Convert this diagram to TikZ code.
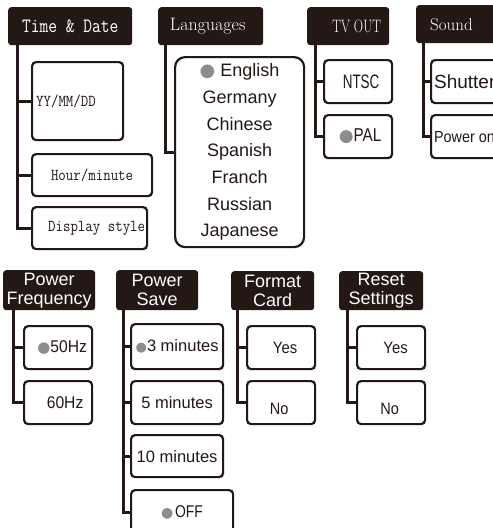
\documentclass[tikz,border=0pt]{standalone}
\usepackage{fontspec}
\usepackage{graphicx}
\newfontfamily\sanf{Liberation Sans}
\newfontfamily\symf{DejaVu Sans}
\definecolor{dark}{HTML}{231815}
\definecolor{dotgray}{HTML}{8C8C8C}
\newcommand{\cnd}[3]{\scalebox{#1}[1]{\fontsize{#2}{#2}\selectfont #3}}
\newcommand{\gdot}[1]{{\fontsize{#1}{#1}\symf\textcolor{dotgray}{●}}}
\newcommand{\lowr}[2]{\raisebox{-#1}[\height][\depth]{#2}}
\newcommand{\mt}[1]{\scalebox{1}[1.15]{#1}}
\begin{document}
\begin{tikzpicture}[x=1pt,y=-1pt,
  hdr/.style={fill=dark, rounded corners=3pt, text=white, inner sep=0pt, anchor=north west},
  box/.style={draw=dark, line width=2.2pt, rounded corners=4pt, inner sep=0pt, anchor=north west, text=dark},
  trunk/.style={draw=dark, line width=3pt},
  mono/.style={font=\ttfamily\fontsize{14.5}{16}\selectfont},
  sans/.style={font=\sanf\fontsize{18}{19}\selectfont},
  sansbox/.style={font=\sanf},
]
\useasboundingbox (0,0) rectangle (493,528);
\fill[white] (0,0) rectangle (493,528);
\clip (0,0) rectangle (493,528);

% ---------- top row ----------
\node[hdr, minimum width=124pt, minimum height=38pt, font=\ttfamily\fontsize{17}{17}\selectfont] (td) at (8,7) {\scalebox{1}[1.2]{Time \& Date}};
\node[box, mono, minimum width=91pt, minimum height=78pt, inner xsep=4pt] (yy) at (31,61) {\makebox[83pt][l]{\mt{YY/MM/DD}}};
\node[box, mono, minimum width=120pt, minimum height=42pt] (hm) at (31,153) {\mt{Hour/minute}};
\node[box, mono, minimum width=115pt, minimum height=42pt, inner xsep=16pt] (ds) at (31,206) {\makebox[83pt][l]{\mt{Display style}}};

\node[hdr, minimum width=105pt, minimum height=38pt, font=\fontsize{18}{18}\selectfont] (lh) at (158,7) {Languages\hspace*{6pt}};
\node[box, rounded corners=10pt, minimum width=129pt, minimum height=190pt, align=center,
      font=\sanf\fontsize{18}{26.7}\selectfont] (lg) at (174,56)
  {\gdot{18} English\\Germany\\Chinese\\Spanish\\Franch\\Russian\\Japanese};

\node[hdr, minimum width=82pt, minimum height=38pt] (tv) at (307,7) {\hspace*{17pt}\cnd{0.72}{18}{TV OUT}};
\node[box, sansbox, minimum width=68pt, minimum height=43pt] (ntsc) at (323,59) {\hspace*{6pt}\cnd{0.69}{19.5}{NTSC}};
\node[box, sansbox, minimum width=68pt, minimum height=43pt] (pal) at (323,114) {\hspace*{4pt}\gdot{17}\cnd{0.82}{18.6}{PAL}};

\node[hdr, minimum width=89pt, minimum height=38pt, inner xsep=14pt] (so) at (416,5) {\makebox[61pt][l]{\fontsize{17}{17}\selectfont Sound}};
\node[box, sansbox, minimum width=85pt, minimum height=43pt, inner xsep=3pt] (sh) at (430,59) {\makebox[79pt][l]{\fontsize{19}{19}\selectfont Shutter}};
\node[box, sansbox, minimum width=85pt, minimum height=43pt, inner xsep=3pt] (po) at (430,114) {\makebox[79pt][l]{\cnd{0.9}{16}{Power on}}};

% ---------- bottom row ----------
\node[hdr, sans, align=center, minimum width=92pt, minimum height=40pt] (pf) at (3,270) {Power\\Frequency};
\node[box, sansbox, minimum width=68pt, minimum height=43pt] (f50) at (23,325) {\hspace*{8pt}\gdot{15}\cnd{0.92}{17}{50Hz}};
\node[box, sansbox, minimum width=68pt, minimum height=43pt] (f60) at (23,380) {\hspace*{14pt}\cnd{0.92}{17}{60Hz}};

\node[hdr, sans, align=center, minimum width=82pt, minimum height=40pt] (ps) at (116,270) {Power\\Save};
\node[box, sansbox, minimum width=92pt, minimum height=45pt] (m3) at (130,323) {\gdot{13}\cnd{1}{16.5}{3 minutes}};
\node[box, sansbox, minimum width=92pt, minimum height=43pt] (m5) at (130,380) {\cnd{1}{16.5}{5 minutes}};
\node[box, sansbox, minimum width=92pt, minimum height=42pt] (m10) at (130,434) {\cnd{1}{16.5}{10 minutes}};
\node[box, sansbox, minimum width=102pt, minimum height=44pt] (off) at (130,489) {\gdot{14}\,\cnd{0.82}{17}{OFF}};

\node[hdr, sans, align=center, minimum width=83pt, minimum height=39pt] (fc) at (231,271) {Format\\Card};
\node[box, sansbox, minimum width=68pt, minimum height=43pt] (fy) at (246,325) {\hspace*{8pt}\cnd{0.9}{16.5}{Yes}};
\node[box, sansbox, minimum width=68pt, minimum height=43pt] (fn) at (246,380) {\lowr{6pt}{\cnd{0.88}{16.5}{No}}\hspace*{4pt}};

\node[hdr, sans, align=center, minimum width=84pt, minimum height=39pt] (rs) at (339,271) {Reset\\Settings};
\node[box, sansbox, minimum width=68pt, minimum height=43pt] (ry) at (356,325) {\hspace*{9pt}\cnd{0.9}{16.5}{Yes}};
\node[box, sansbox, minimum width=68pt, minimum height=43pt] (rn) at (356,380) {\lowr{6pt}{\cnd{0.88}{16.5}{No}}\hspace*{3pt}};

% ---------- connectors ----------
\draw[trunk] ([xshift=9pt]td.south west) |- (yy.west);
\draw[trunk] ([xshift=9pt]td.south west) |- (hm.west);
\draw[trunk] ([xshift=9pt]td.south west) |- (ds.west);
\draw[trunk] ([xshift=7pt]lh.south west) |- (lg.west);
\draw[trunk] ([xshift=8pt]tv.south west) |- (ntsc.west);
\draw[trunk] ([xshift=8pt]tv.south west) |- (pal.west);
\draw[trunk] ([xshift=7pt]so.south west) |- (sh.west);
\draw[trunk] ([xshift=7pt]so.south west) |- (po.west);
\draw[trunk] ([xshift=10pt]pf.south west) |- (f50.west);
\draw[trunk] ([xshift=10pt]pf.south west) |- (f60.west);
\draw[trunk] ([xshift=7pt]ps.south west) |- (m3.west);
\draw[trunk] ([xshift=7pt]ps.south west) |- (m5.west);
\draw[trunk] ([xshift=7pt]ps.south west) |- (m10.west);
\draw[trunk] ([xshift=7pt]ps.south west) |- (off.west);
\draw[trunk] ([xshift=6pt]fc.south west) |- (fy.west);
\draw[trunk] ([xshift=6pt]fc.south west) |- (fn.west);
\draw[trunk] ([xshift=8pt]rs.south west) |- (ry.west);
\draw[trunk] ([xshift=8pt]rs.south west) |- (rn.west);
\end{tikzpicture}
\end{document}
